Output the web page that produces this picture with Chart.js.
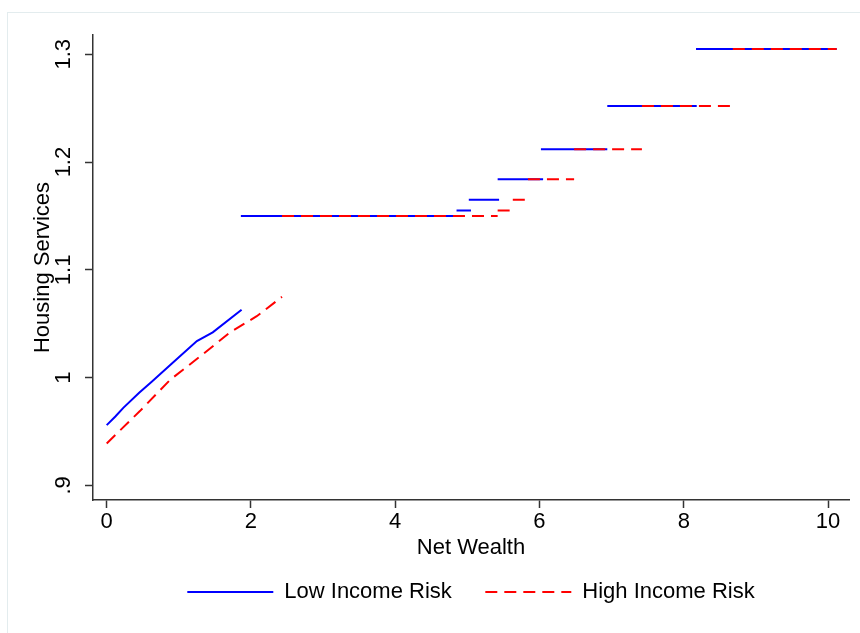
<!DOCTYPE html>
<html>
<head>
<meta charset="utf-8">
<script src="https://cdn.jsdelivr.net/npm/chart.js@4.4.1/dist/chart.umd.min.js"></script>
<style>
  body { margin: 0; background: #fff; }
  #wrap { position: relative; width: 860px; height: 633px; }
  /* marco claro del grafico (solo arriba e izquierda se ven) */
  #marco { position: absolute; left: 7px; top: 12px; right: -2px; bottom: -2px; border: 1px solid #e3ecee; }
  #chartVivienda { position: absolute; left: 0; top: 0; }
</style>
</head>
<body>
<div id="wrap">
  <div id="marco"></div>
  <canvas id="chartVivienda" width="860" height="633"></canvas>
</div>
<script>
/* DATOS */
const xTicks = [0, 2, 4, 6, 8, 10];
const xTickLabels = ["0", "2", "4", "6", "8", "10"];
const yTicks = [0.9, 1.0, 1.1, 1.2, 1.3];
const yTickLabels = [".9", "1", "1.1", "1.2", "1.3"];

// tramo curvo al inicio
const lowCurveX = [0, 0.12, 0.23, 0.45, 0.62, 0.9, 1.25, 1.47, 1.87];
const lowCurveY = [0.956, 0.964, 0.972, 0.986, 0.996, 1.013, 1.034, 1.042, 1.063];
const highCurveX = [0, 0.46, 0.88, 1.3, 1.71, 2.08, 2.43];
const highCurveY = [0.939, 0.969, 0.998, 1.02, 1.042, 1.057, 1.075];

// escalones planos
const stepLevels = [1.150, 1.155, 1.165, 1.184, 1.212, 1.252, 1.305];
const lowStart = [1.86, 4.85, 5.02, 5.42, 6.02, 6.94, 8.17];
const lowEnd = [4.84, 5.05, 5.44, 6.05, 6.94, 8.18, 10.12];
const highStart = [2.43, 5.42, 5.63, 5.84, 6.48, 7.42, 8.68];
const highEnd = [5.42, 5.61, 5.81, 6.48, 7.42, 8.64, 10.12];

const FUENTE = "'Liberation Sans', Arial, sans-serif";
const EJE = "#333";

/* arma los puntos: curva + escalones separados por huecos */
const armarSerie = (cx, cy, inicio, fin) => {
  const puntos = cx.map((x, i) => ({ x: x, y: cy[i] }));
  stepLevels.forEach((nivel, i) => {
    puntos.push({ x: inicio[i], y: null });
    puntos.push({ x: inicio[i], y: nivel });
    puntos.push({ x: fin[i], y: nivel });
  });
  return puntos;
};

const context = document.getElementById("chartVivienda").getContext("2d");

const chartVivienda = new Chart(context, {
  type: "line",
  data: {
    datasets: [
      {
        label: "Low Income Risk",
        data: armarSerie(lowCurveX, lowCurveY, lowStart, lowEnd),
        borderColor: "#0000ff",
        backgroundColor: "transparent",
        borderWidth: 2,
        pointRadius: 0,
        tension: 0,
        order: 1,
      },
      {
        label: "High Income Risk",
        data: armarSerie(highCurveX, highCurveY, highStart, highEnd),
        borderColor: "#ff0000",
        backgroundColor: "transparent",
        borderWidth: 2,
        borderDash: [12, 7],
        pointRadius: 0,
        tension: 0,
        order: 0,
      },
    ],
  },
  options: {
    responsive: false,
    animation: false,
    spanGaps: false,
    layout: { padding: { left: 0, right: 11, top: 35, bottom: 20 } },
    plugins: {
      tooltip: { enabled: false },
      legend: {
        position: "bottom",
        fullSize: false,
        labels: {
          usePointStyle: true,
          pointStyle: "line",
          pointStyleWidth: 86,
          padding: 33.5,
          color: "#000",
          font: { family: FUENTE, size: 22 },
          sort: (a, b) => a.datasetIndex - b.datasetIndex,
          // la muestra de linea toma el guion y grosor de la serie
          generateLabels: (chart) =>
            Chart.defaults.plugins.legend.labels.generateLabels(chart).map((item) => {
              const ds = chart.data.datasets[item.datasetIndex];
              item.lineDash = ds.borderDash || [];
              item.lineWidth = ds.borderWidth;
              item.strokeStyle = ds.borderColor;
              return item;
            }),
        },
      },
    },
    scales: {
      x: {
        type: "linear",
        min: -0.19,
        max: 10.291,
        afterBuildTicks: (scale) => {
          scale.ticks = xTicks.map((v) => ({ value: v }));
        },
        afterFit: (scale) => {
          scale.height = 47.5;
        },
        grid: { drawOnChartArea: false, drawTicks: true, tickLength: 8, tickColor: EJE, tickWidth: 1.5 },
        border: { display: true, color: EJE, width: 1.5 },
        ticks: {
          autoSkip: false,
          maxRotation: 0,
          padding: 1,
          color: "#000",
          font: { family: FUENTE, size: 22 },
          callback: (v, i) => xTickLabels[i],
        },
        title: {
          display: true,
          text: "Net Wealth",
          color: "#000",
          font: { family: FUENTE, size: 22 },
          padding: { top: 0, bottom: -13.7 },
        },
      },
      y: {
        type: "linear",
        min: 0.8865,
        max: 1.3179,
        afterBuildTicks: (scale) => {
          scale.ticks = yTicks.map((v) => ({ value: v }));
        },
        afterFit: (scale) => {
          scale.width = 93;
        },
        grid: { drawOnChartArea: false, drawTicks: true, tickLength: 8, tickColor: EJE, tickWidth: 1.5 },
        border: { display: true, color: EJE, width: 1.5 },
        ticks: {
          autoSkip: false,
          minRotation: 90,
          maxRotation: 90,
          crossAlign: "center",
          padding: 6,
          color: "#000",
          font: { family: FUENTE, size: 22 },
          callback: (v, i) => yTickLabels[i],
        },
        title: {
          display: true,
          text: "Housing Services",
          color: "#000",
          font: { family: FUENTE, size: 22 },
          padding: { top: 29.5, bottom: 0 },
        },
      },
    },
  },
});
</script>
</body>
</html>
